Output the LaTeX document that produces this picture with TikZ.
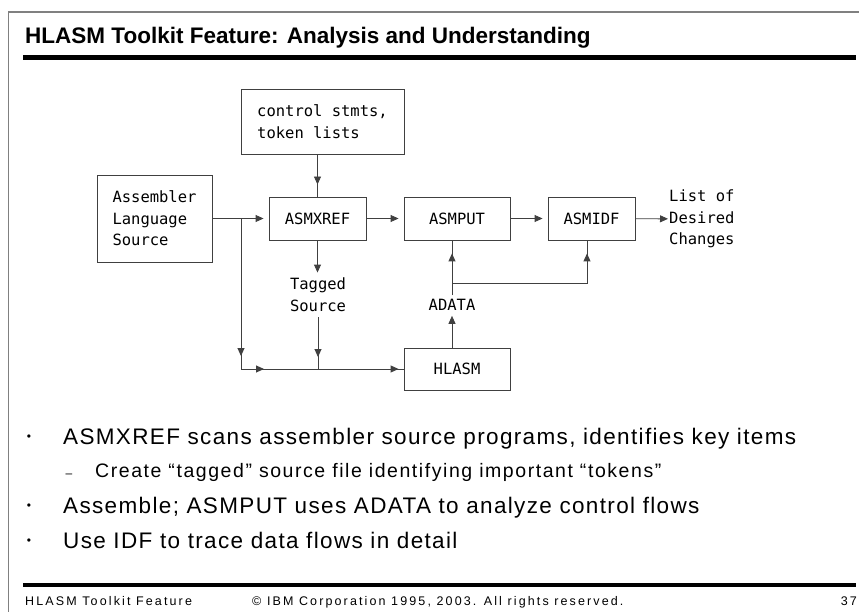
\documentclass[tikz,border=0pt]{standalone}
\usepackage{fontspec}
\setmainfont{Liberation Sans}
\setmonofont{DejaVu Sans Mono}
\newfontfamily\bodyfont[LetterSpace=6]{Liberation Sans}
\newfontfamily\subfont[LetterSpace=8]{Liberation Sans}
\newfontfamily\footfont[LetterSpace=17]{Liberation Sans}
\usetikzlibrary{arrows.meta}

\tikzset{
	box/.style={draw=black!75, line width=0.9pt, minimum height=43pt,
		inner sep=0pt, align=left, font=\ttfamily\fontsize{15.5}{21.5}\selectfont},
	lbl/.style={inner sep=0pt, align=left, font=\ttfamily\fontsize{15.5}{21.5}\selectfont},
	ln/.style={draw=black!75, line width=0.9pt},
	arr/.style={ln, -{Triangle[length=8pt,width=7pt]}},
	txt/.style={anchor=base west, inner sep=0pt},
	dot/.style={inner sep=0pt, font=\fontsize{12}{12}\selectfont},
}

\begin{document}
\begin{tikzpicture}[x=1pt,y=-1pt]
	\useasboundingbox (0,0) rectangle (859,612);
	% frame and bars
	\draw [gray, line width=1.3pt] (8,12) -- (859,12);
	\draw [gray, line width=1pt] (8,12) -- (8,612);
	\fill (23,55) rectangle (856,60);
	\fill (23,583) rectangle (856,587);
	\node [txt, font=\bfseries\fontsize{22.5}{27}\selectfont] (title) at (25,44)
		{HLASM Toolkit Feature: Analysis and Understanding};
	%
	\node [box, minimum width=163pt, minimum height=65pt] (ctl) at (322.5,121.5) {control stmts,\\token lists};
	\node [box, minimum width=115pt, minimum height=87pt] (src) at (154.5,218.5) {Assembler\\Language\\Source};
	\node [box, minimum width=97pt] (xref) at (317.5,218.5) {ASMXREF};
	\node [box, minimum width=106pt] (put) at (457,218.5) {ASMPUT};
	\node [box, minimum width=87pt] (idf) at (591.5,218.5) {ASMIDF};
	\node [box, minimum width=106pt, minimum height=42pt] (hlasm) at (457,369) {HLASM};
	\node [lbl, anchor=west] (chg) at (669,219) {List of\\Desired\\Changes};
	\node [lbl, align=center] (tag) at (318,294.5) {Tagged\\Source};
	\node [lbl] (adata) at (452,305) {ADATA};
	\coordinate (fork) at (241,218.5);
	\coordinate (low) at (241,369);
	\coordinate (turn) at (587,283);
	%
	\draw [ln] (ctl.south -| xref.north) -- (xref.north);
	\draw [arr, shorten >=12pt] (ctl.south -| xref.north) -- (xref.north);
	\draw [arr, shorten >=5pt] (src) -- (xref);
	\draw [arr, shorten >=5pt] (xref) -- (put);
	\draw [arr, shorten >=5pt] (put) -- (idf);
	\draw [arr, shorten >=1pt] (idf) -- (chg);
	\draw [arr, shorten >=5pt] (xref.south) -- (tag.north -| xref.south);
	\draw [ln] (fork) -- (low) -- (hlasm.west);
	\draw [arr, shorten >=13pt] (fork) -- (low);
	\draw [arr] (low) -- ++(23,0);
	\draw [arr, shorten >=5pt] (low) -- (hlasm.west);
	\draw [ln, shorten <=6pt] (tag.south) -- (tag.south |- low);
	\draw [arr, shorten <=6pt, shorten >=12pt] (tag.south) -- (tag.south |- low);
	\draw [arr, shorten >=5pt] (adata |- hlasm.north) -- (adata.south);
	\draw [ln, shorten <=4pt] (adata.north) -- (adata |- put.south);
	\draw [arr, shorten <=4pt, shorten >=13pt] (adata.north) -- (adata |- put.south);
	\draw [ln] (adata |- turn) -- (turn) -- (turn |- idf.south);
	\draw [arr, shorten >=13pt] (turn) -- (turn |- idf.south);
	%
	\node [dot] (d1) at (29,438) {•};
	\node [txt, font=\bodyfont\fontsize{22.5}{27}\selectfont] (t1) at (63,444)
		{ASMXREF scans assembler source programs, identifies key items};
	\node [dot] (d2) at (69,476) {–};
	\node [txt, font=\subfont\fontsize{19.5}{23}\selectfont] (t2) at (95,477)
		{Create “tagged” source file identifying important “tokens”};
	\node [dot] (d3) at (29,507) {•};
	\node [txt, font=\bodyfont\fontsize{22.5}{27}\selectfont] (t3) at (63,513)
		{Assemble; ASMPUT uses ADATA to analyze control flows};
	\node [dot] (d4) at (29,542) {•};
	\node [txt, font=\bodyfont\fontsize{22.5}{27}\selectfont] (t4) at (63,548)
		{Use IDF to trace data flows in detail};
	%
	\node [txt, font=\footfont\fontsize{12.5}{15}\selectfont] (foot) at (25,605) {HLASM Toolkit Feature};
	\node [txt, font=\footfont\fontsize{12.5}{15}\selectfont] (copy) at (252,605)
		{© IBM Corporation 1995, 2003. All rights reserved.};
	\node [txt, anchor=base east, font=\footfont\fontsize{12.5}{15}\selectfont] (page) at (857,605) {37};
\end{tikzpicture}
\end{document}
